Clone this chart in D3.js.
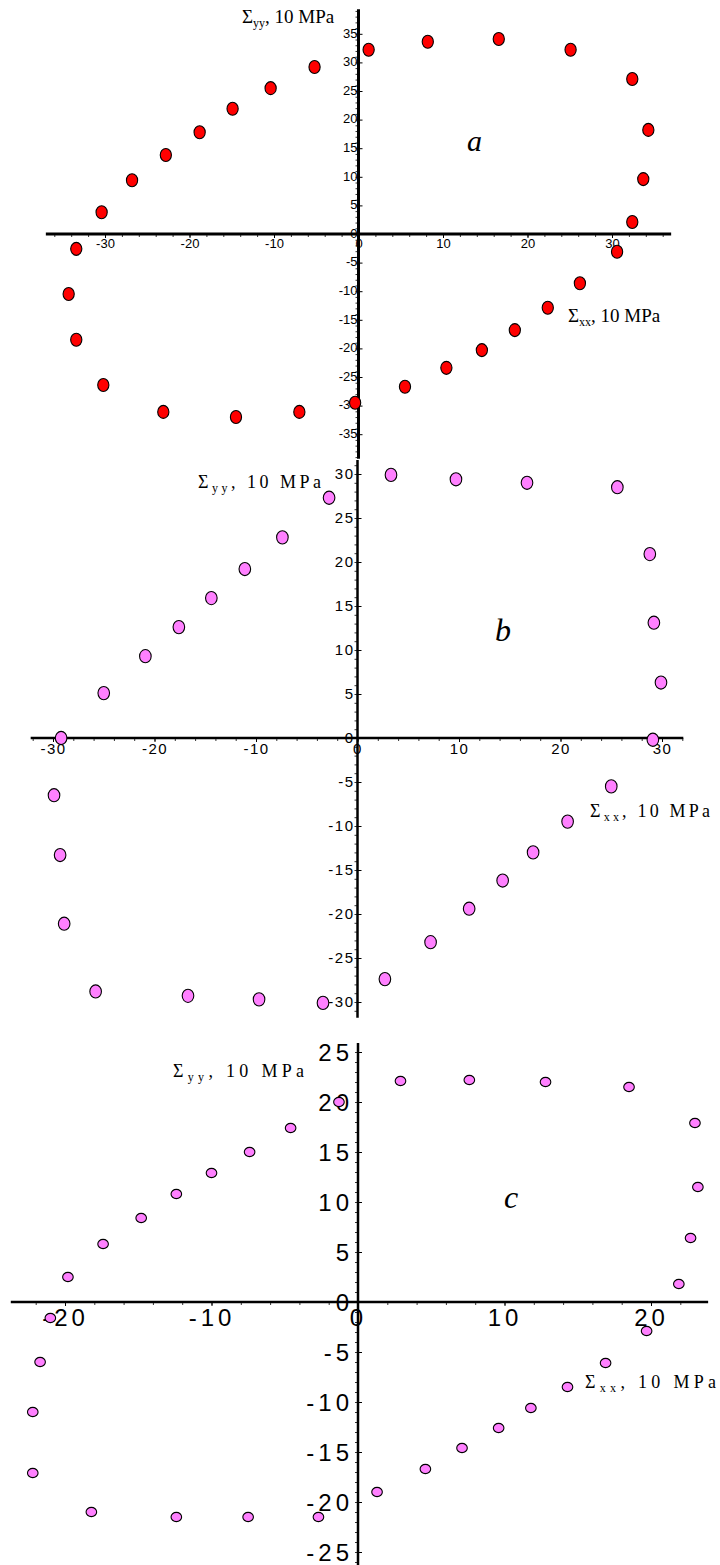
<!DOCTYPE html>
<html>
<head>
<meta charset="utf-8">
<script src="https://cdn.jsdelivr.net/npm/d3@7"></script>
<style>
  html, body { margin: 0; padding: 0; background: #fff; }
  svg { display: block; }
</style>
</head>
<body>
<svg id="chart" width="720" height="1565"></svg>
<script>
// ---------------- DATA ----------------
// Panel a: stress states (Σxx, Σyy), units of 10 MPa
const aSxx = [1.2, 8.2, 16.6, 25.1, 32.4, 34.3, 33.7, 32.4, 30.6, 26.2, 22.4, 18.5, 14.6, 10.4, 5.5, -0.4,
              -7.0, -14.5, -23.1, -30.2, -33.4, -34.3, -33.4, -30.4, -26.8, -22.8, -18.8, -14.9, -10.4, -5.2];
const aSyy = [32.2, 33.6, 34.1, 32.2, 27.1, 18.2, 9.6, 2.1, -3.1, -8.6, -12.9, -16.8, -20.3, -23.4, -26.7, -29.5,
              -31.1, -32.0, -31.1, -26.4, -18.5, -10.5, -2.6, 3.8, 9.4, 13.8, 17.8, 21.9, 25.5, 29.2];

// Panel b
const bSxx = [3.3, 9.7, 16.7, 25.6, 28.8, 29.2, 29.9, 29.1, 25.0, 20.7, 17.3, 14.3, 11.0, 7.2, 2.7,
              -3.4, -9.7, -16.7, -25.8, -28.9, -29.3, -29.9, -29.2, -25.0, -20.9, -17.6, -14.4, -11.1, -7.4, -2.8];
const bSyy = [29.9, 29.4, 29.0, 28.5, 20.9, 13.1, 6.3, -0.2, -5.5, -9.5, -13.0, -16.2, -19.4, -23.2, -27.4,
              -30.1, -29.7, -29.3, -28.8, -21.1, -13.3, -6.5, 0.0, 5.1, 9.3, 12.6, 15.9, 19.2, 22.8, 27.3];

// Panel c
const cSxx = [2.9, 7.6, 12.8, 18.5, 23.0, 23.2, 22.7, 21.9, 19.7, 16.9, 14.3, 11.8, 9.6, 7.1, 4.6, 1.3,
              -2.7, -7.5, -12.4, -18.2, -22.2, -22.2, -21.7, -21.0, -19.8, -17.4, -14.8, -12.4, -10.0, -7.4, -4.6, -1.3];
const cSyy = [22.1, 22.2, 22.0, 21.5, 17.9, 11.5, 6.4, 1.8, -2.9, -6.1, -8.5, -10.6, -12.6, -14.6, -16.7, -19.0,
              -21.5, -21.5, -21.5, -21.0, -17.1, -11.0, -6.0, -1.6, 2.5, 5.8, 8.4, 10.8, 12.9, 15.0, 17.4, 20.0];

// Tick labels
const aXTicks = [-30, -20, -10, 0, 10, 20, 30];
const aYTicks = [-35, -30, -25, -20, -15, -10, -5, 0, 5, 10, 15, 20, 25, 30, 35];
const bXTicks = [-30, -20, -10, 0, 10, 20, 30];
const bYTicks = [-30, -25, -20, -15, -10, -5, 0, 5, 10, 15, 20, 25, 30];
const cXTicks = [-20, -10, 0, 10, 20];
const cYTicks = [-25, -20, -15, -10, -5, 0, 5, 10, 15, 20, 25];

// Texts
const panelLetters = ["a", "b", "c"];
const xTitleSub = "xx";
const yTitleSub = "yy";
const titleRest = ", 10 MPa";

// ---------------- LAYOUT / STYLE ----------------
const panels = [
  { letter: panelLetters[0], sxx: aSxx, syy: aSyy, xTicks: aXTicks, yTicks: aYTicks,
    xDomain: [-37, 37], yDomain: [-39.3, 39.3], origin: [358.5, 234], unit: [8.45, 5.72],
    xMinor: d3.range(-36, 37, 2), yMinor: d3.range(-39, 40, 1),
    axisW: 3, tickFont: 13, tickLS: 0, xLabPad: 1, yLabPad: 1, yLabDy: "0.25em",
    marker: { rx: 5.6, ry: 6.5, fill: "#ff0000" },
    yTitle: { x: 242, y: 23, size: 19, sub: 12, ls: 0 },
    xTitle: { x: 568, y: 322, size: 19, sub: 12, ls: 0 },
    letterPos: { x: 467, y: 151, size: 30 } },
  { letter: panelLetters[1], sxx: bSxx, syy: bSyy, xTicks: bXTicks, yTicks: bYTicks,
    xDomain: [-32.2, 32.1], yDomain: [-31.8, 31.6], origin: [357.5, 738], unit: [10.15, 8.8],
    xMinor: d3.range(-32, 33, 2), yMinor: d3.range(-31, 32, 1),
    axisW: 2.5, tickFont: 15, tickLS: 1.5, xLabPad: 1.5, yLabPad: 3, yLabDy: "0.32em",
    marker: { rx: 5.8, ry: 6.6, fill: "#ff80ff" },
    yTitle: { x: 198, y: 488, size: 18, sub: 12, ls: 3.5 },
    xTitle: { x: 590, y: 817, size: 18, sub: 12, ls: 3.2 },
    letterPos: { x: 495, y: 641, size: 32 } },
  { letter: panelLetters[2], sxx: cSxx, syy: cSyy, xTicks: cXTicks, yTicks: cYTicks,
    xDomain: [-23.7, 23.9], yDomain: [-26.3, 25.9], origin: [358, 1302], unit: [14.65, 10],
    xMinor: d3.range(-22, 23, 2), yMinor: d3.range(-26, 26, 1),
    axisW: 2.5, tickFont: 24, tickLS: 4, xLabPad: 3, yLabPad: 5, yLabDy: "0.35em",
    marker: { rx: 5.3, ry: 4.6, fill: "#ff80ff" },
    yTitle: { x: 173, y: 1077, size: 18, sub: 12, ls: 4.3 },
    xTitle: { x: 585, y: 1388, size: 18, sub: 12, ls: 4.3 },
    letterPos: { x: 504, y: 1208, size: 32 } }
];

const svg = d3.select("#chart");
svg.append("rect").attr("width", 720).attr("height", 1565).attr("fill", "#fff");

const SANS = "'Liberation Sans', Arial, Helvetica, sans-serif";
const SERIF = "'Liberation Serif', 'Times New Roman', serif";

function sigmaTitle(g, cfg, sub) {
  const t = g.append("text")
    .attr("x", cfg.x).attr("y", cfg.y)
    .attr("font-family", SERIF).attr("font-size", cfg.size)
    .attr("letter-spacing", cfg.ls).attr("fill", "#000");
  t.append("tspan").text("Σ");
  t.append("tspan").attr("font-size", cfg.sub).attr("dy", 4).text(sub);
  t.append("tspan").attr("dy", -4).text(titleRest);
}

panels.forEach(P => {
  const [ox, oy] = P.origin;
  const [ux, uy] = P.unit;
  const x = d3.scaleLinear().domain(P.xDomain).range([ox + P.xDomain[0] * ux, ox + P.xDomain[1] * ux]);
  const y = d3.scaleLinear().domain(P.yDomain).range([oy - P.yDomain[0] * uy, oy - P.yDomain[1] * uy]);
  const g = svg.append("g").attr("class", "panel-" + P.letter);
  const fmt = d => String(d);

  // x minor ticks
  const xMin = g.append("g").attr("transform", `translate(0,${y(0)})`)
    .call(d3.axisBottom(x).tickValues(P.xMinor).tickSize(3).tickSizeOuter(0).tickFormat(""));
  xMin.select(".domain").remove();
  xMin.selectAll("line").attr("stroke", "#000").attr("stroke-width", 0.8);

  // y minor ticks
  const yMin = g.append("g").attr("transform", `translate(${x(0)},0)`)
    .call(d3.axisLeft(y).tickValues(P.yMinor).tickSize(3).tickSizeOuter(0).tickFormat(""));
  yMin.select(".domain").remove();
  yMin.selectAll("line").attr("stroke", "#000").attr("stroke-width", 0.8);

  // x major ticks + labels
  const xMaj = g.append("g").attr("transform", `translate(0,${y(0)})`)
    .call(d3.axisBottom(x).tickValues(P.xTicks).tickSize(4).tickSizeOuter(0).tickPadding(P.xLabPad).tickFormat(fmt));
  xMaj.select(".domain").remove();
  xMaj.selectAll("line").attr("stroke", "#000").attr("stroke-width", 1);
  xMaj.selectAll("text")
    .attr("font-family", SANS).attr("font-size", P.tickFont)
    .attr("letter-spacing", P.tickLS).attr("fill", "#000");

  // y major ticks (to the right) + labels (to the left)
  const yMaj = g.append("g").attr("transform", `translate(${x(0)},0)`)
    .call(d3.axisLeft(y).tickValues(P.yTicks).tickSize(-4).tickSizeOuter(0).tickPadding(P.yLabPad).tickFormat(fmt));
  yMaj.select(".domain").remove();
  yMaj.selectAll("line").attr("stroke", "#000").attr("stroke-width", 1);
  yMaj.selectAll("text")
    .attr("font-family", SANS).attr("font-size", P.tickFont)
    .attr("letter-spacing", P.tickLS).attr("fill", "#000")
    .attr("dy", P.yLabDy);

  // axis lines
  g.append("line")
    .attr("x1", x(P.xDomain[0])).attr("x2", x(P.xDomain[1]))
    .attr("y1", y(0)).attr("y2", y(0))
    .attr("stroke", "#000").attr("stroke-width", P.axisW);
  g.append("line")
    .attr("x1", x(0)).attr("x2", x(0))
    .attr("y1", y(P.yDomain[0])).attr("y2", y(P.yDomain[1]))
    .attr("stroke", "#000").attr("stroke-width", P.axisW);

  // points
  const pts = P.sxx.map((v, i) => ({ sx: v, sy: P.syy[i] }));
  g.append("g").selectAll("ellipse").data(pts).join("ellipse")
    .attr("cx", d => x(d.sx)).attr("cy", d => y(d.sy))
    .attr("rx", P.marker.rx).attr("ry", P.marker.ry)
    .attr("fill", P.marker.fill).attr("stroke", "#000").attr("stroke-width", 1.1);

  // titles
  sigmaTitle(g, P.yTitle, yTitleSub);
  sigmaTitle(g, P.xTitle, xTitleSub);

  // panel letter
  g.append("text")
    .attr("x", P.letterPos.x).attr("y", P.letterPos.y)
    .attr("font-family", SERIF).attr("font-style", "italic")
    .attr("font-size", P.letterPos.size).attr("fill", "#000")
    .text(P.letter);
});
</script>
</body>
</html>
